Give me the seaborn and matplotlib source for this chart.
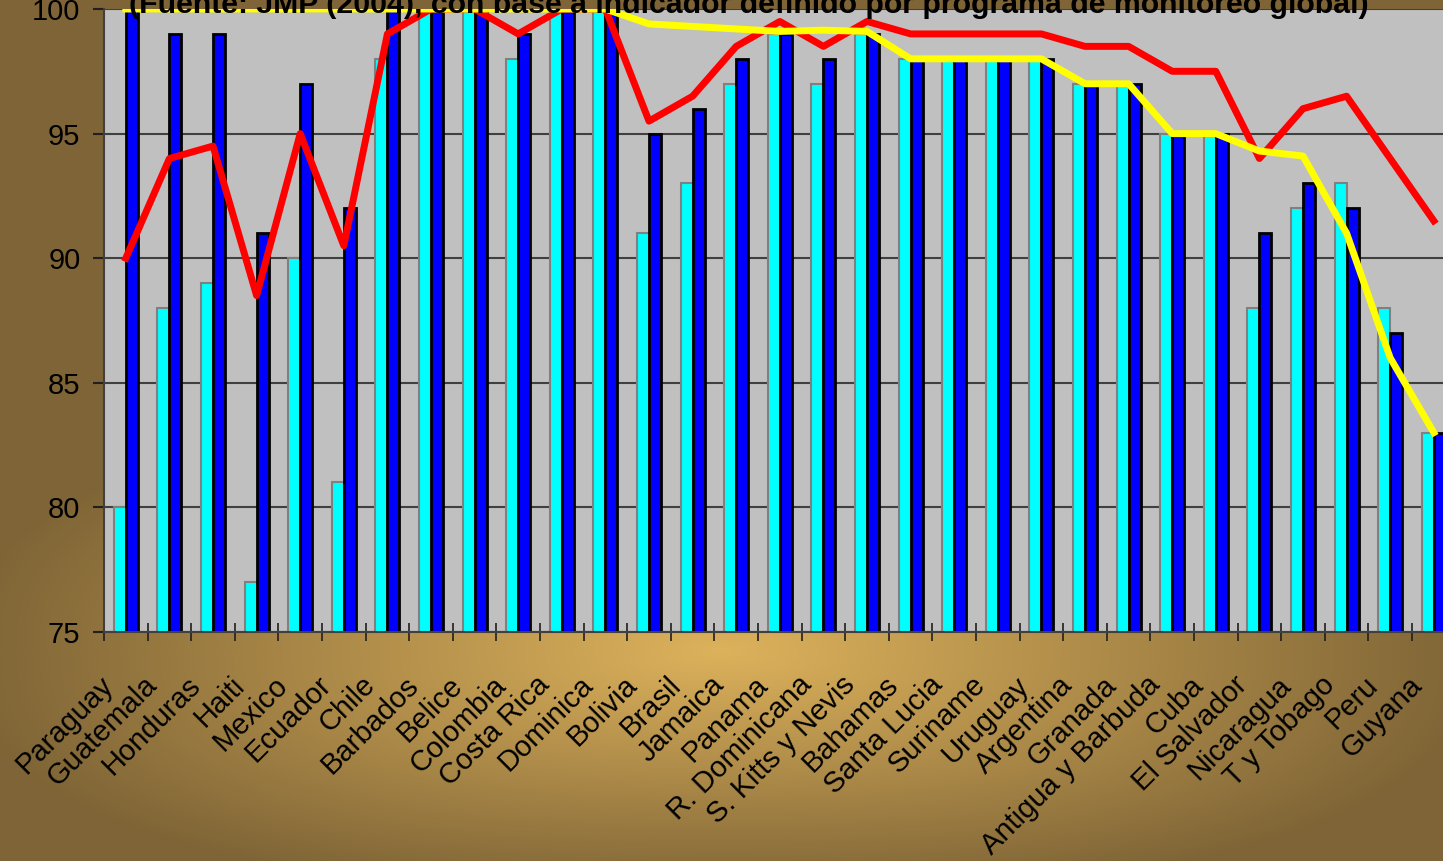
import numpy as np
import pandas as pd
import matplotlib
matplotlib.use("Agg")
import matplotlib.pyplot as plt
import matplotlib.transforms as mtransforms
import seaborn as sns

paises = ["Paraguay", "Guatemala", "Honduras", "Haiti", "Mexico", "Ecuador", "Chile",
          "Barbados", "Belice", "Colombia", "Costa Rica", "Dominica", "Bolivia", "Brasil",
          "Jamaica", "Panama", "R. Dominicana", "S. Kitts y Nevis", "Bahamas", "Santa Lucia",
          "Suriname", "Uruguay", "Argentina", "Granada", "Antigua y Barbuda", "Cuba",
          "El Salvador", "Nicaragua", "T y Tobago", "Peru", "Guyana"]

# barras (cian / azul)
serie_cian = [80, 88, 89, 77, 90, 81, 98, 100, 100, 98, 100, 100, 91, 93, 97, 99,
              97, 99, 98, 98, 98, 98, 97, 97, 95, 95, 88, 92, 93, 88, 83]
serie_azul = [100, 99, 99, 91, 97, 92, 100, 100, 100, 99, 100, 100, 95, 96, 98, 99,
              98, 99, 98, 98, 98, 98, 97, 97, 95, 95, 91, 93, 92, 87, 83]

# lineas
linea_roja = [90, 94, 94.5, 88.5, 95, 90.5, 99, 100, 100, 99, 100, 100, 95.5, 96.5,
              98.5, 99.5, 98.5, 99.5, 99, 99, 99, 99, 98.5, 98.5, 97.5, 97.5, 94, 96,
              96.5, 94, 91.5]
linea_amarilla = [100, 100, 100, 100, 100, 100, 100, 100, 100, 100, 100, 100, 99.4,
                  99.3, 99.2, 99.1, 99.15, 99.1, 98, 98, 98, 98, 97, 97, 95, 95, 94.3,
                  94.1, 91, 86, 83]

y_ticks = [75, 80, 85, 90, 95, 100]
titulo = "(Fuente: JMP (2004), con base a indicador definido por programa de monitoreo global)"

plt.rcParams["font.family"] = ["Liberation Sans", "DejaVu Sans"]

W, H = 1443, 861
fig = plt.figure(figsize=(W / 100, H / 100), dpi=100)

# fondo degradado dorado
bg = fig.add_axes([0, 0, 1, 1], zorder=-1)
yy, xx = np.mgrid[0:H, 0:W]
p = 2.5
d = (np.abs((xx - 720) / 760.0) ** p + np.abs((yy - 650) / 245.0) ** p) ** (1 / p)
t = np.clip(d, 0, 1)[..., None]
claro = np.array([221, 178, 92]) / 255
oscuro = np.array([126, 100, 54]) / 255
grad = claro * (1 - t) + oscuro * t
bg.imshow(grad, extent=[0, 1, 0, 1], aspect="auto")
bg.axis("off")

left, bottom = 104 / W, (H - 632) / H
ax = fig.add_axes([left, bottom, 1351.6 / W, 623 / H])
ax.set_facecolor("#C0C0C0")

df = pd.DataFrame({
    "pais": paises * 2,
    "valor": serie_cian + serie_azul,
    "serie": ["cian"] * len(paises) + ["azul"] * len(paises),
})
sns.barplot(data=df, x="pais", y="valor", hue="serie", order=paises,
            hue_order=["cian", "azul"], palette=["#00FFFF", "#0000FF"],
            width=0.55, gap=0, saturation=1, legend=False, ax=ax, zorder=2)
for cont, ec, lw in zip(ax.containers, ["#808080", "black"], [1.5, 2.0]):
    for pt in cont:
        pt.set_edgecolor(ec)
        pt.set_linewidth(lw)

sns.pointplot(x=paises, y=linea_roja, order=paises, color="#FF0000", errorbar=None,
              markersize=0, linewidth=5, ax=ax, zorder=5)
sns.pointplot(x=paises, y=linea_amarilla, order=paises, color="#FFFF00", errorbar=None,
              markersize=0, linewidth=5, ax=ax, zorder=6)

ax.set_xlim(-0.5, len(paises) - 0.5)
ax.set_ylim(75, 100)
ax.set_yticks(y_ticks)
ax.yaxis.grid(True, color="#404040", linewidth=1.5)
ax.set_axisbelow(True)
ax.set_xlabel("")
ax.set_ylabel("")

ax.set_xticks(np.arange(len(paises)))
ax.set_xticklabels(paises, rotation=45, ha="right", rotation_mode="anchor", fontsize=21)
ax.set_xticks(np.arange(len(paises) + 1) - 0.5, minor=True)
ax.tick_params(axis="x", which="major", length=0, pad=28)
ax.tick_params(axis="x", which="minor", length=13, width=1.2, direction="inout", color="#202020")
ax.tick_params(axis="y", length=8, width=1.5, direction="out", color="#202020",
               labelsize=21, pad=9)

desplaza = mtransforms.ScaledTranslation(-19 / 72, 0, fig.dpi_scale_trans)
for lab in ax.get_xticklabels():
    lab.set_transform(lab.get_transform() + desplaza)

for s in ["top", "right"]:
    ax.spines[s].set_visible(False)
for s in ["left", "bottom"]:
    ax.spines[s].set_color("#404040")
    ax.spines[s].set_linewidth(1.5)

fig.text(749 / W, 1 - 13 / H, titulo, ha="center", va="baseline", fontsize=21.8,
         fontweight="bold")

fig.savefig("out.png", dpi=100)
